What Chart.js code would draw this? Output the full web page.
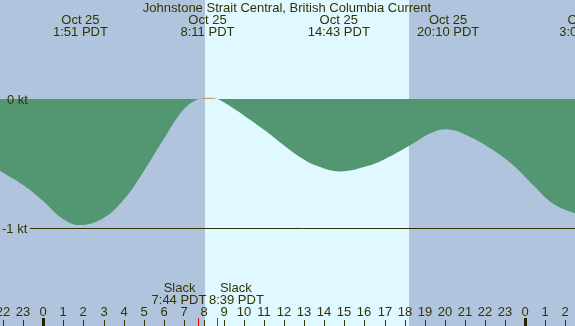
<!DOCTYPE html>
<html>
<head>
<meta charset="utf-8">
<script src="https://cdn.jsdelivr.net/npm/chart.js@4/dist/chart.umd.min.js"></script>
<style>
  body { margin: 0; background: #b0c4de; }
  canvas { display: block; }
</style>
</head>
<body>
<canvas id="chart1" width="575" height="326"></canvas>
<script>
// hours since midnight Oct 25 (PDT) and current speed in knots (negative = ebb)
const hours = [-2.5, -2, -1, 0, 1, 1.85, 3, 4, 5, 6, 7, 7.73, 8.2, 8.67, 9.5, 10.3, 11.1, 12, 12.8, 13.6, 14.72, 16.1, 17, 18.3, 19.3, 20.17, 21.1, 22.3, 23.4, 24.4, 25.4, 26.5, 27.05];
const knots = [-0.52, -0.57, -0.665, -0.79, -0.93, -0.975, -0.92, -0.78, -0.56, -0.31, -0.08, 0, 0.01, 0, -0.075, -0.16, -0.25, -0.36, -0.45, -0.515, -0.56, -0.52, -0.465, -0.355, -0.265, -0.235, -0.28, -0.385, -0.51, -0.665, -0.81, -0.885, -0.9];

// events along the top
const eventHours = [1.85, 8.18, 14.72, 20.17, 27.07];
const eventDates = ['Oct 25', 'Oct 25', 'Oct 25', 'Oct 25', 'Oct 26'];
const eventTimes = ['1:51 PDT', '8:11 PDT', '14:43 PDT', '20:10 PDT', '3:04 PDT'];

// slack water
const slackHours = [7.73, 8.65];
const slackTimes = ['7:44 PDT', '8:39 PDT'];

// daylight
const sunrise = 8.06;
const sunset = 18.22;

const tickHours = [];
for (let h = -2; h <= 26; h++) tickHours.push(h);

const levelLines = [0, -1];
const levelLabels = ['0 kt', '-1 kt'];

const textColor = '#333300';
const font = '13px "Liberation Sans", Arial, sans-serif';

const decor = {
  id: 'decor',
  beforeDatasetsDraw(chart) {
    const c = chart.ctx, x = chart.scales.x, a = chart.chartArea;
    c.save();
    c.fillStyle = '#b0c4de';
    c.fillRect(a.left, a.top, a.right - a.left, a.bottom - a.top);
    c.fillStyle = '#e0f8ff';
    const x1 = x.getPixelForValue(sunrise), x2 = x.getPixelForValue(sunset);
    c.fillRect(Math.round(x1), a.top, Math.round(x2 - x1), a.bottom - a.top);
    c.restore();
  },
  afterDatasetsDraw(chart) {
    const c = chart.ctx, x = chart.scales.x, y = chart.scales.y, a = chart.chartArea;
    c.save();
    c.font = font;
    c.fillStyle = textColor;
    c.textBaseline = 'middle';

    // level labels and -1 line
    c.textAlign = 'left';
    levelLines.forEach((v, i) => {
      const py = Math.round(y.getPixelForValue(v));
      c.fillText(levelLabels[i], i === 0 ? 7 : 2, py + 1);
      if (v !== 0) {
        c.strokeStyle = textColor;
        c.lineWidth = 1;
        c.beginPath();
        c.moveTo(30, py + 0.5);
        c.lineTo(a.right, py + 0.5);
        c.stroke();
      }
    });

    // title
    c.textAlign = 'center';
    c.fillText('Johnstone Strait Central, British Columbia Current', 287, 8);

    // event labels
    eventHours.forEach((h, i) => {
      const px = x.getPixelForValue(h);
      c.fillText(eventDates[i], px, 20);
      c.fillText(eventTimes[i], px, 32);
    });

    // slack labels, pushed apart so they do not collide
    slackHours.forEach((h, i) => {
      const px = x.getPixelForValue(h);
      c.textAlign = i === 0 ? 'right' : 'left';
      const tx = i === 0 ? px + 8 : px - 8;
      const sx = i === 0 ? tx - 11 : tx + 11;
      c.fillText('Slack', sx, 288);
      c.fillText(slackTimes[i], tx, 300);
    });
    c.textAlign = 'center';

    // hour ticks
    tickHours.forEach(h => {
      const px = Math.round(x.getPixelForValue(h));
      const lab = ((h % 24) + 24) % 24;
      c.fillStyle = textColor;
      c.fillText(String(lab), px, 312);
      if (lab === 0) {
        c.fillStyle = '#222200';
        c.fillRect(px - 1, 318, 3, 8);
      } else {
        c.fillRect(px, 320, 1, 6);
      }
    });
    c.fillStyle = '#ff0000';
    slackHours.forEach(h => {
      const px = Math.round(x.getPixelForValue(h));
      c.fillRect(px, 318, 1, 8);
    });
    c.restore();
  }
};

const points = hours.map((h, i) => ({ x: h, y: knots[i] }));

new Chart(document.getElementById('chart1').getContext('2d'), {
  type: 'line',
  data: {
    datasets: [{
      data: points,
      borderWidth: 0,
      borderColor: 'rgba(0,0,0,0)',
      pointRadius: 0,
      tension: 0.4,
      fill: { target: 'origin', above: '#c4a77a', below: '#529672' }
    }]
  },
  options: {
    responsive: false,
    animation: false,
    layout: { padding: 0 },
    plugins: { legend: { display: false }, tooltip: { enabled: false } },
    scales: {
      x: { type: 'linear', display: false, min: -2.157, max: 26.49 },
      y: { display: false, min: -1.7556, max: 0.7657 }
    }
  },
  plugins: [decor]
});
</script>
</body>
</html>
